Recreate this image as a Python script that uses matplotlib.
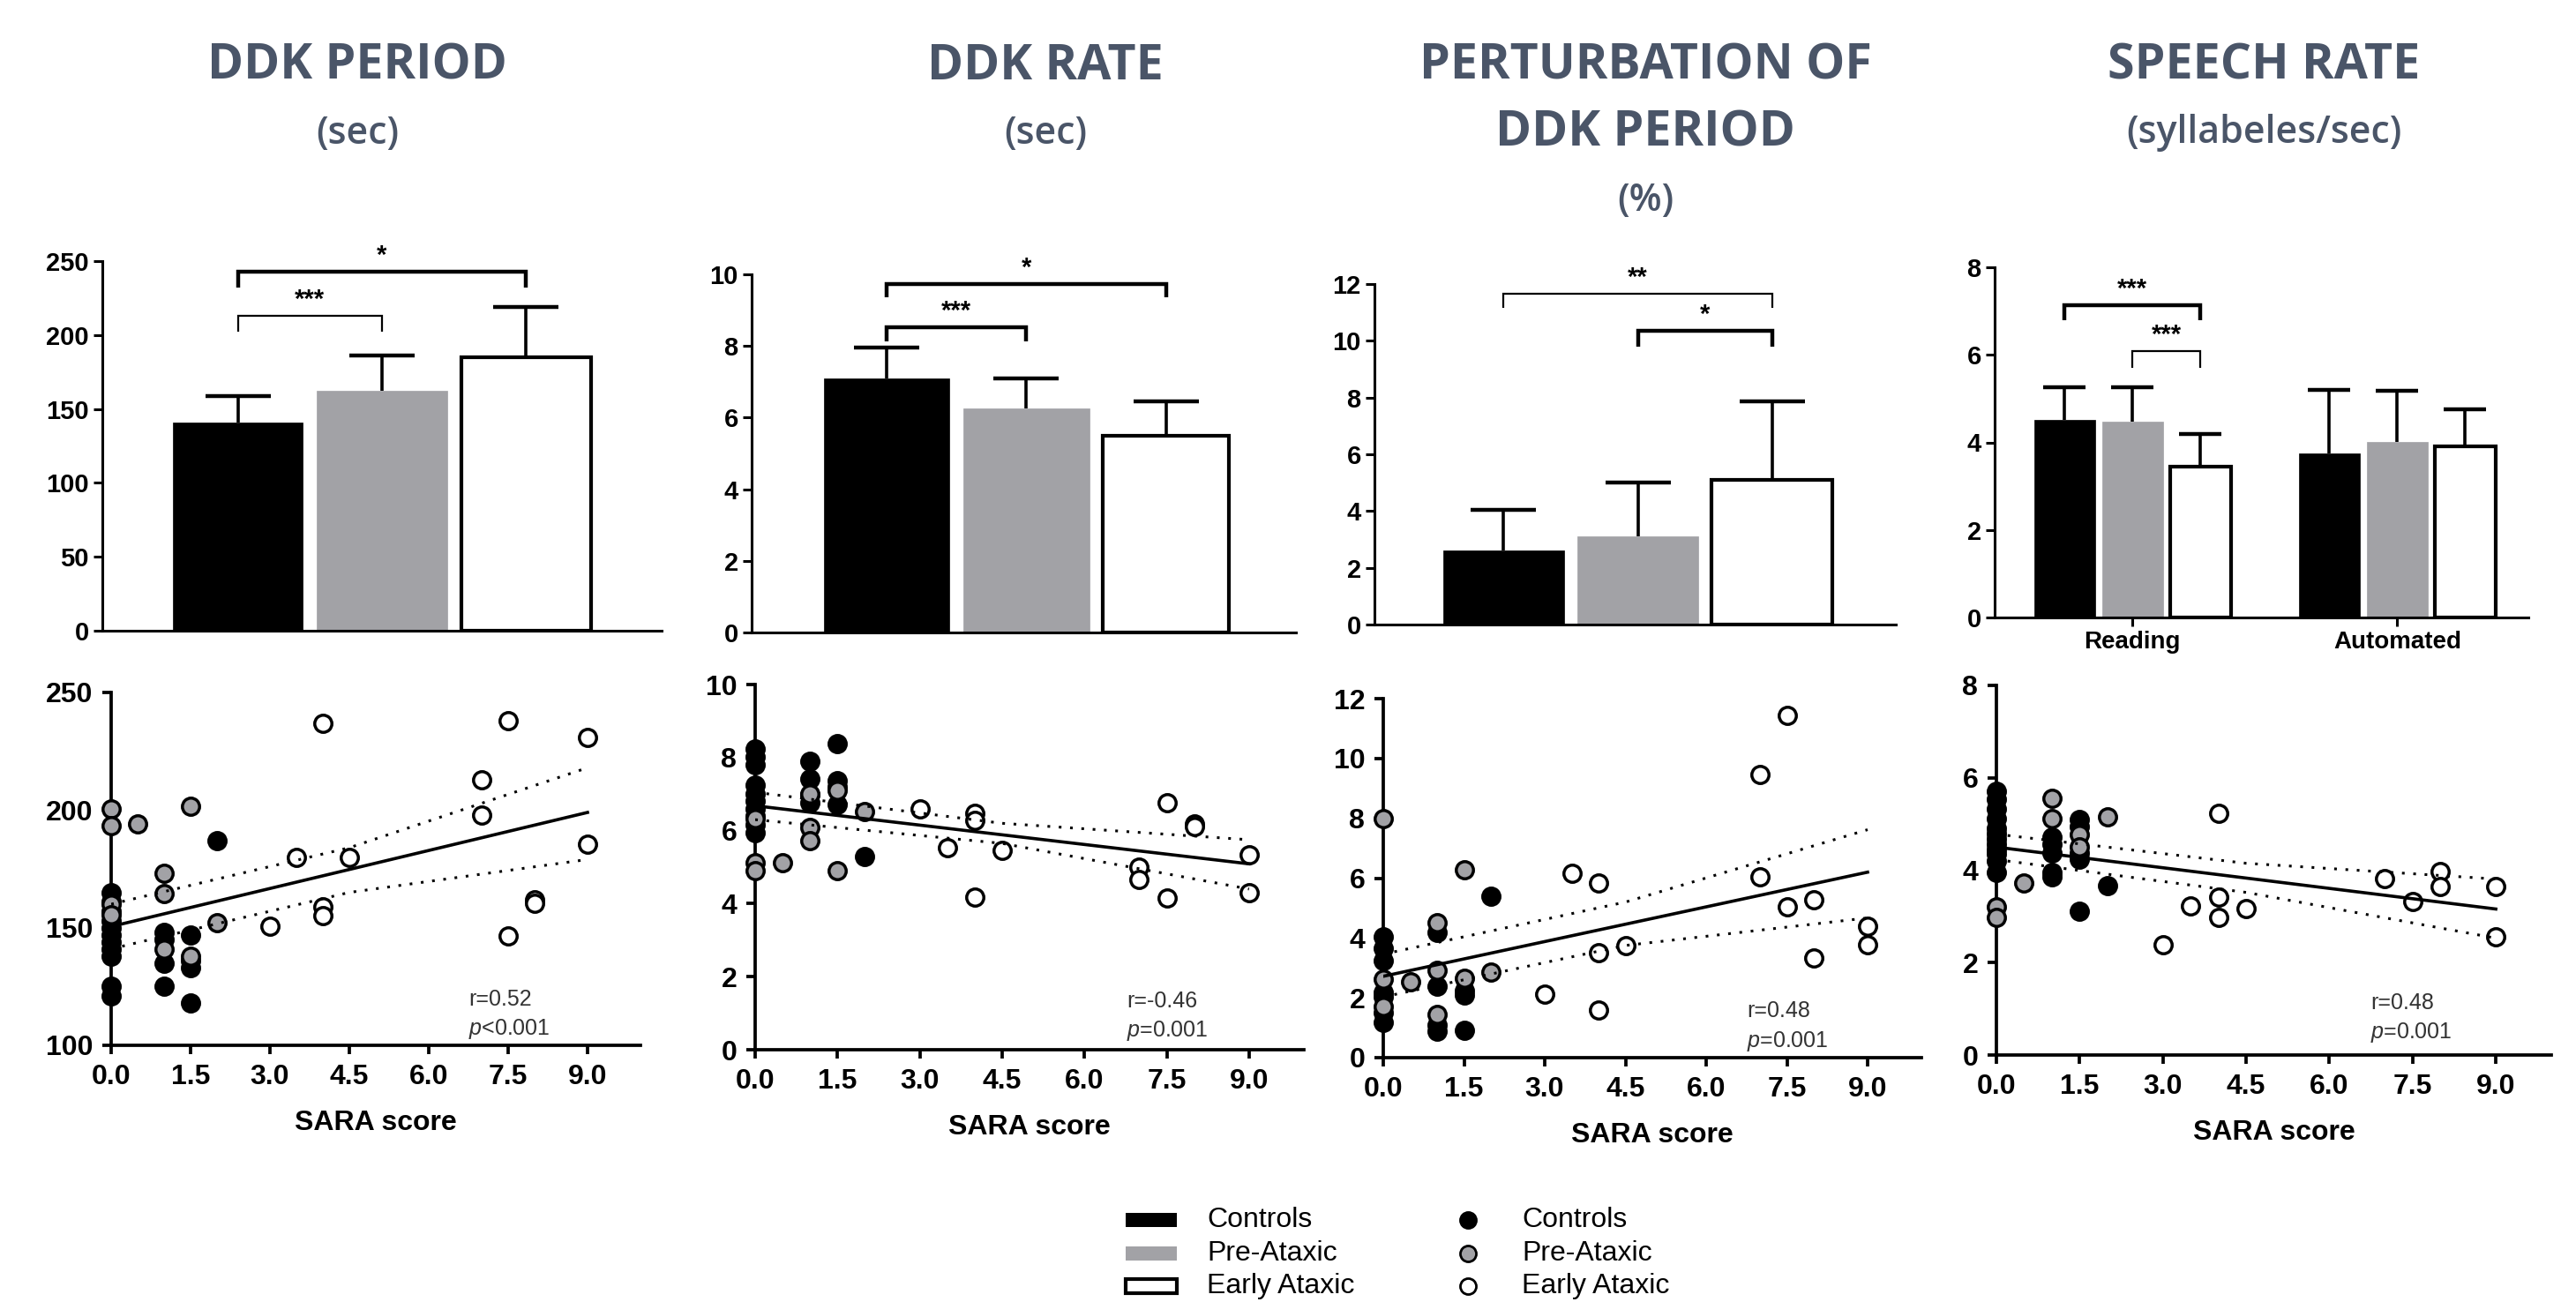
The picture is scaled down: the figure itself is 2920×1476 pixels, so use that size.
import numpy as np
import matplotlib
matplotlib.use('Agg')
import matplotlib.pyplot as plt
from matplotlib.patches import Rectangle

W, H = 2920, 1476

groups = ['Controls', 'Pre-Ataxic', 'Early Ataxic']

# bar panels: group mean and upper end of the SD bar
period_mean = [141, 162, 185]
period_top = [159, 186, 219]
rate_mean = [7.1, 6.25, 5.5]
rate_top = [7.95, 7.1, 6.45]
perturb_mean = [2.6, 3.1, 5.1]
perturb_top = [4.05, 5.0, 7.85]
speech_tasks = ['Reading', 'Automated']
speech_mean = [[4.52, 4.48, 3.45], [3.75, 4.02, 3.9]]
speech_top = [[5.25, 5.25, 4.2], [5.2, 5.18, 4.75]]

# brackets: (bar a, bar b, bracket height, tip height, label, thick)
period_sig = [(0, 1, 213, 202, '***', False), (0, 2, 243, 232, '*', True)]
rate_sig = [(0, 1, 8.52, 8.13, '***', True), (0, 2, 9.73, 9.36, '*', True)]
perturb_sig = [(0, 2, 11.66, 11.16, '**', False), (1, 2, 10.35, 9.8, '*', True)]
speech_sig = [(0, 2, 7.14, 6.79, '***', True), (1, 2, 6.08, 5.7, '***', False)]

# scatter panels: SARA score vs measure
period_ctrl_x = [0, 0, 0, 0, 0, 0, 0, 0, 0, 0, 0, 1, 1, 1, 1, 1.5, 1.5, 1.5, 1.5, 2]
period_ctrl_y = [165, 161, 157, 153, 150, 147, 144, 141, 138, 125, 121, 148, 145, 135, 125, 147, 136, 133, 118, 187]
period_pre_x = [0, 0, 0, 0, 0.5, 1, 1, 1, 1.5, 1.5, 2]
period_pre_y = [200.5, 193.5, 160, 155.5, 194, 173, 164.5, 141, 201.5, 138, 152]
period_early_x = [3, 3.5, 4, 4, 4, 4.5, 7, 7, 7.5, 7.5, 8, 8, 9, 9]
period_early_y = [150.5, 180, 237, 159, 155, 180, 213, 198, 238, 146.5, 162, 160.5, 231, 185.5]

rate_ctrl_x = [0, 0, 0, 0, 0, 0, 0, 0, 0, 0, 1, 1, 1, 1, 1.5, 1.5, 1.5, 1.5, 2]
rate_ctrl_y = [8.23, 8.02, 7.8, 7.24, 7.0, 6.8, 6.6, 6.4, 6.15, 5.95, 7.9, 7.41, 6.98, 6.77, 8.38, 7.37, 7.2, 6.72, 5.28]
rate_pre_x = [0, 0, 0, 0.5, 1, 1, 1, 1.5, 1.5, 2]
rate_pre_y = [6.33, 5.13, 4.91, 5.13, 7.0, 6.08, 5.73, 7.1, 4.91, 6.53]
rate_early_x = [3, 3.5, 4, 4, 4, 4.5, 7, 7, 7.5, 7.5, 8, 8, 9, 9]
rate_early_y = [6.6, 5.52, 6.47, 6.27, 4.18, 5.47, 5.0, 4.66, 6.77, 4.16, 6.19, 6.12, 5.34, 4.31]

perturb_ctrl_x = [0, 0, 0, 0, 0, 0, 0, 1, 1, 1, 1, 1.5, 1.5, 1.5, 2]
perturb_ctrl_y = [4.04, 3.67, 3.25, 2.19, 2.03, 1.51, 1.19, 4.2, 2.4, 1.09, 0.88, 2.25, 2.09, 0.9, 5.41]
perturb_pre_x = [0, 0, 0, 0.5, 1, 1, 1, 1.5, 1.5, 2]
perturb_pre_y = [7.99, 2.62, 1.72, 2.53, 4.51, 2.93, 1.43, 6.28, 2.64, 2.85]
perturb_early_x = [3, 3.5, 4, 4, 4, 4.5, 7, 7, 7.5, 7.5, 8, 8, 9, 9]
perturb_early_y = [2.12, 6.15, 5.83, 3.51, 1.58, 3.74, 9.47, 6.04, 11.44, 5.04, 5.28, 3.33, 4.39, 3.78]

speech_ctrl_x = [0, 0, 0, 0, 0, 0, 0, 0, 0, 0, 0, 0, 1, 1, 1, 1, 1, 1.5, 1.5, 1.5, 1.5, 1.5, 2]
speech_ctrl_y = [5.7, 5.53, 5.32, 5.12, 4.91, 4.8, 4.68, 4.57, 4.45, 4.35, 4.2, 3.96,
                 4.71, 4.57, 4.37, 3.96, 3.86, 5.1, 4.95, 4.37, 4.23, 3.11, 3.67]
speech_pre_x = [0, 0, 0.5, 1, 1, 1.5, 1.5, 2]
speech_pre_y = [3.21, 2.97, 3.72, 5.56, 5.12, 4.78, 4.5, 5.15]
speech_early_x = [3, 3.5, 4, 4, 4, 4.5, 7, 7.5, 8, 8, 9, 9]
speech_early_y = [2.39, 3.22, 5.24, 3.41, 2.97, 3.17, 3.82, 3.32, 3.97, 3.65, 3.64, 2.56]

# regression line (x=0, x=9) and 95% band (x=0, 4.5, 9)
fit_x = [0, 9]
band_x = [0, 4.5, 9]
period_fit = [150.5, 199]
period_lo = [141, 165, 179]
period_hi = [160, 184, 218]
rate_fit = [6.68, 5.09]
rate_lo = [6.3, 5.65, 4.4]
rate_hi = [7.05, 6.2, 5.75]
perturb_fit = [2.72, 6.2]
perturb_lo = [2.03, 3.75, 4.67]
perturb_hi = [3.46, 5.2, 7.62]
speech_fit = [4.5, 3.16]
speech_lo = [4.23, 3.52, 2.53]
speech_hi = [4.78, 4.15, 3.81]

stats_r = ['r=0.52', 'r=-0.46', 'r=0.48', 'r=0.48']
stats_p = ['<0.001', '=0.001', '=0.001', '=0.001']

titles = [['DDK PERIOD', '(sec)'], ['DDK RATE', '(sec)'],
          ['PERTURBATION OF', 'DDK PERIOD', '(%)'], ['SPEECH RATE', '(syllabeles/sec)']]

plt.rcParams['font.family'] = ['Liberation Sans', 'DejaVu Sans']
plt.rcParams['mathtext.fontset'] = 'custom'
plt.rcParams['mathtext.it'] = 'Liberation Sans:italic'
plt.rcParams['mathtext.rm'] = 'Liberation Sans'

fill = ['black', '#a2a2a6', 'white']
title_col = '#4a5568'

fig = plt.figure(figsize=(W / 100, H / 100), dpi=100)


def px_axes(x0, x1, ytop, ybot):
    return fig.add_axes([x0 / W, 1 - ybot / H, (x1 - x0) / W, (ybot - ytop) / H])


def style(ax, lw, size, pad):
    for s in ['top', 'right']:
        ax.spines[s].set_visible(False)
    for s in ['left', 'bottom']:
        ax.spines[s].set_linewidth(lw)
    ax.tick_params(direction='out', length=7, width=lw, labelsize=size, pad=pad)
    for lab in ax.get_yticklabels() + ax.get_xticklabels():
        lab.set_fontweight('bold')


def brackets(ax, xs, sig):
    for a, b, y, tip, lab, thick in sig:
        lw = 3.2 if thick else 1.6
        ax.plot([xs[a], xs[a], xs[b], xs[b]], [tip, y, y, tip], color='black', lw=lw,
                solid_capstyle='butt', solid_joinstyle='miter', clip_on=False)
        ax.annotate(lab, ((xs[a] + xs[b]) / 2, y), xytext=(0, 3), textcoords='offset points',
                    ha='center', va='bottom', fontsize=21, fontweight='bold')


def bar_panel(ax, xs, mean, top, ylim, yticks, cap):
    for i, (x, m, t) in enumerate(zip(xs, mean, top)):
        ax.bar(x, m, width=0.9, color=fill[i % 3], edgecolor='black' if i % 3 != 1 else fill[1],
               linewidth=3 if i % 3 == 2 else 0.5, zorder=2)
        ax.vlines(x, m, t, color='black', lw=2.6, zorder=1)
        ax.plot(x, t, marker='_', ms=cap, mew=3.2, color='black', zorder=1)
    ax.set_ylim(*ylim)
    ax.set_yticks(yticks)
    ax.set_xticks([])
    style(ax, 2.2, 21, 4)


# bar row
bar_boxes = [(116, 750, 296, 715), (852, 1469, 311, 717), (1558, 2149, 322, 708)]
bar_xlims = [(-0.94, 2.94), (-0.965, 2.93), (-0.96, 2.92)]
bar_data = [(period_mean, period_top, (0, 250), [0, 50, 100, 150, 200, 250], period_sig),
            (rate_mean, rate_top, (0, 10), [0, 2, 4, 6, 8, 10], rate_sig),
            (perturb_mean, perturb_top, (0, 12), [0, 2, 4, 6, 8, 10, 12], perturb_sig)]
for box, xl, (mean, top, yl, yt, sig) in zip(bar_boxes, bar_xlims, bar_data):
    ax = px_axes(*box)
    bar_panel(ax, [0, 1, 2], mean, top, yl, yt, 53)
    ax.set_xlim(*xl)
    brackets(ax, [0, 1, 2], sig)

ax = px_axes(2261, 2866, 303, 700)
sx = [0, 1, 2, 3.9, 4.9, 5.9]
bar_panel(ax, sx, speech_mean[0] + speech_mean[1], speech_top[0] + speech_top[1],
          (0, 8), [0, 2, 4, 6, 8], 34)
ax.set_xlim(-1.03, 6.83)
ax.set_xticks([1, 4.9])
ax.set_xticklabels(speech_tasks, fontsize=20, fontweight='bold')
ax.tick_params(axis='x', length=7, width=2.2)
brackets(ax, sx, speech_sig)

# titles
title_x = [405, 1185, 1865, 2566]
for tx, lines in zip(title_x, titles):
    for k, line in enumerate(lines):
        main = line.isupper()
        fig.text(tx / W, 1 - (75 + 76 * k) / H, line, ha='center', va='center',
                 family=['Open Sans', 'DejaVu Sans'], color=title_col,
                 fontsize=40 if main else 31, fontweight='bold' if main else 'semibold')

# scatter row
sc_boxes = [(126, 726, 785, 1185), (856, 1478, 776, 1190), (1568, 2178, 792, 1199), (2263, 2892, 777, 1196)]
sc_ylims = [(100, 250), (0, 10), (0, 12), (0, 8)]
sc_yticks = [[100, 150, 200, 250], [0, 2, 4, 6, 8, 10], [0, 2, 4, 6, 8, 10, 12], [0, 2, 4, 6, 8]]
sc_series = [
    ((period_ctrl_x, period_ctrl_y), (period_pre_x, period_pre_y), (period_early_x, period_early_y)),
    ((rate_ctrl_x, rate_ctrl_y), (rate_pre_x, rate_pre_y), (rate_early_x, rate_early_y)),
    ((perturb_ctrl_x, perturb_ctrl_y), (perturb_pre_x, perturb_pre_y), (perturb_early_x, perturb_early_y)),
    ((speech_ctrl_x, speech_ctrl_y), (speech_pre_x, speech_pre_y), (speech_early_x, speech_early_y)),
]
sc_fits = [(period_fit, period_lo, period_hi), (rate_fit, rate_lo, rate_hi),
           (perturb_fit, perturb_lo, perturb_hi), (speech_fit, speech_lo, speech_hi)]
stat_pos = [(531, 1133), (1277, 1135), (1980, 1146), (2687, 1137)]
xticks = [0, 1.5, 3, 4.5, 6, 7.5, 9]

for i, box in enumerate(sc_boxes):
    ax = px_axes(*box)
    for g, (xs, ys) in enumerate(sc_series[i]):
        ax.plot(xs, ys, 'o', ms=14, mfc=fill[g], mec='black', mew=2.5, clip_on=False, zorder=3 + g)
    fit, lo, hi = sc_fits[i]
    ax.plot(fit_x, fit, color='black', lw=2.6, zorder=6)
    ax.plot(band_x, lo, color='black', lw=2.2, ls=(0, (1, 3.2)), zorder=6)
    ax.plot(band_x, hi, color='black', lw=2.2, ls=(0, (1, 3.2)), zorder=6)
    ax.set_xlim(0, 10)
    ax.set_ylim(*sc_ylims[i])
    ax.set_yticks(sc_yticks[i])
    ax.set_xticks(xticks)
    ax.set_xticklabels(['%.1f' % v for v in xticks])
    style(ax, 2.7, 23, 8)
    ax.set_xlabel('SARA score', fontsize=23, fontweight='bold', labelpad=16)
    sx0, sy0 = stat_pos[i]
    fig.text(sx0 / W, 1 - sy0 / H, stats_r[i], fontsize=18, color='#333333', va='center')
    fig.text(sx0 / W, 1 - (sy0 + 34) / H, r'$\it{p}$' + stats_p[i], fontsize=18, color='#333333', va='center')

# legend
rows = [1383, 1421, 1458]
for k, name in enumerate(groups):
    y = rows[k]
    fig.patches.append(Rectangle((1276 / W, 1 - (y + 8) / H), 58 / W, 16 / H, transform=fig.transFigure,
                                 facecolor=fill[k], edgecolor='black' if k != 1 else fill[1],
                                 linewidth=3 if k == 2 else 0))
    fig.text(1368 / W, 1 - y / H, name, fontsize=23, va='center')
    fig.lines.append(plt.Line2D([1664 / W], [1 - y / H], transform=fig.transFigure, marker='o', ms=13,
                                mfc=fill[k], mec='black', mew=2, ls='none'))
    fig.text(1725 / W, 1 - y / H, name, fontsize=23, va='center')

fig.savefig('out.png', dpi=100, facecolor='white')
